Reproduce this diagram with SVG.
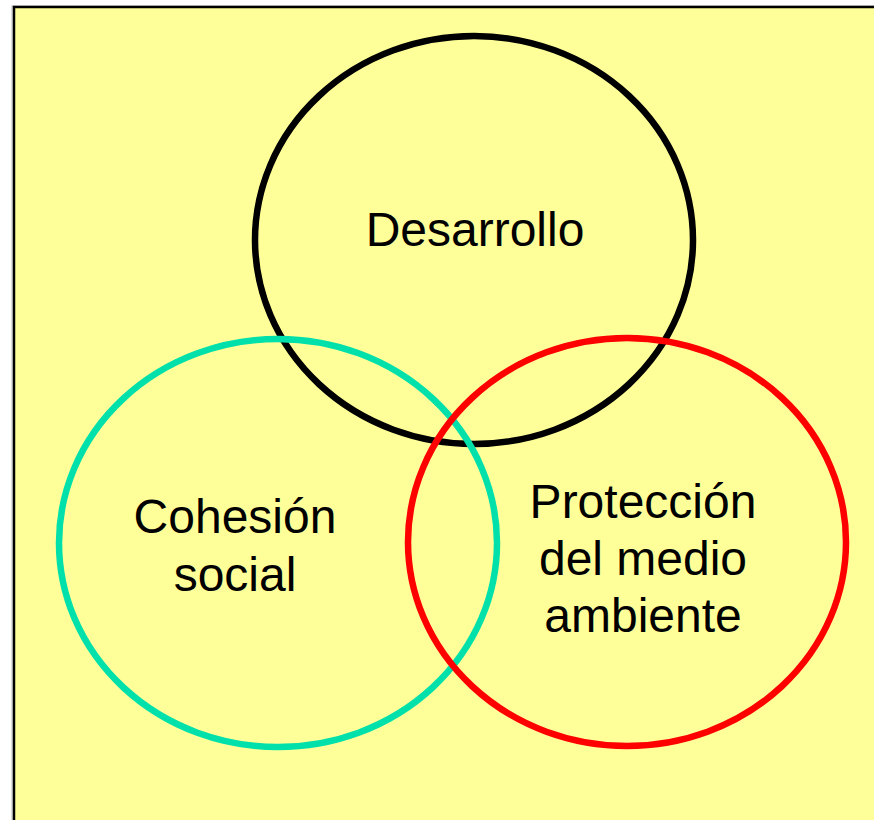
<svg xmlns="http://www.w3.org/2000/svg" width="874" height="820" viewBox="0 0 874 820">
<style>
.c{fill:none;stroke-width:6.5}
.t{font-family:"Liberation Sans",Arial,sans-serif;font-size:48px;fill:#000;text-anchor:middle}
</style>
<rect x="0" y="0" width="874" height="820" fill="#fff"/>
<rect x="12" y="6" width="880" height="830" fill="none" stroke="#bbb" stroke-width="1"/>
<rect x="14" y="7" width="880" height="830" fill="#FFFF99" stroke="#000" stroke-width="2.5"/>
<g id="desarrollo">
<ellipse class="c" cx="474" cy="240" rx="219" ry="204" stroke="#000"/>
<text class="t" x="475" y="246">Desarrollo</text>
</g>
<g id="cohesion">
<ellipse class="c" cx="278" cy="543" rx="219" ry="204" stroke="#00E0AA"/>
<text class="t" x="235" y="533">Cohesión</text>
<text class="t" x="235" y="591">social</text>
</g>
<g id="proteccion">
<ellipse class="c" cx="627" cy="542" rx="219" ry="204" stroke="#FF0000"/>
<text class="t" x="643" y="518">Protección</text>
<text class="t" x="643" y="575">del medio</text>
<text class="t" x="643" y="632">ambiente</text>
</g>
<g id="connectors"/>
</svg>
